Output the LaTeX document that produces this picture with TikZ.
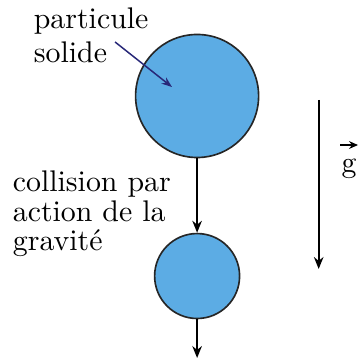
\documentclass[tikz,border=0pt]{standalone}
\usetikzlibrary{arrows.meta}
\definecolor{grainblue}{RGB}{92,172,228}
\definecolor{pointer}{RGB}{40,40,120}
\tikzset{
  grain/.style={circle,draw=black!85,line width=0.55pt,fill=grainblue,inner sep=0pt},
  lbl/.style={align=left,inner sep=0pt,anchor=north west},
}
\begin{document}
\begin{tikzpicture}[>={Stealth[length=4pt,width=3.2pt]},line width=0.6pt]
\useasboundingbox (0,0) rectangle (4.261,-4.261);

\node[grain,minimum size=1.448cm] (big) at (2.32,-1.130) {};
\node[grain,minimum size=1.0cm] (small) at (2.32,-3.249) {};

\node[lbl,font=\fontsize{10}{11.4}\selectfont] (solid) at (0.388,-0.085) {particule\\solide};
\node[lbl,font=\fontsize{10}{9.8}\selectfont] (coll) at (0.141,-2.004) {collision par\\action de la\\gravit\'e};

\coordinate (tail) at (1.354,-0.494);
\coordinate (pin) at (2.024,-1.024);
\draw[->,pointer,line width=0.5pt,>={Stealth[length=3.5pt,width=2.6pt]}] (tail) -- (pin);

\draw[->] (big.south) -- (small.north);
\coordinate (out) at (2.32,-4.214);
\draw[->] (small.south) -- (out);

\coordinate (gtop) at (3.751,-1.177);
\coordinate (gbot) at (3.751,-3.166);
\draw[->] (gtop) -- (gbot);

% vector g
\node[anchor=base,inner sep=0pt] (g) at (4.108,-2.036) {g};
\coordinate (gvl) at (4.002,-1.707);
\coordinate (gvr) at (4.214,-1.707);
\draw[->,line width=0.5pt,>={Stealth[length=3pt,width=2.6pt]}] (gvl) -- (gvr);
\end{tikzpicture}
\end{document}
